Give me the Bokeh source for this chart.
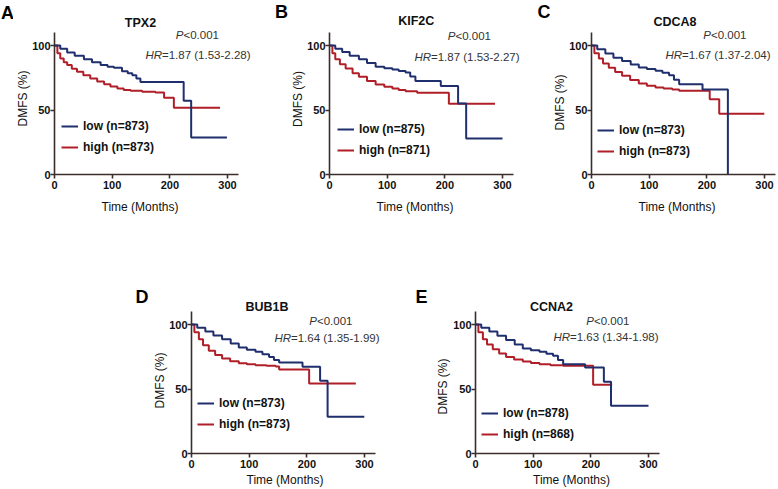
from bokeh.plotting import figure
from bokeh.models import Label, Legend, LegendItem, Spacer, FixedTicker, Range1d, Title
from bokeh.layouts import row, column
from bokeh.core.properties import value
from bokeh.embed import file_html
from bokeh.resources import INLINE

# ---------------- data ----------------
genes = ["TPX2", "KIF2C", "CDCA8", "BUB1B", "CCNA2"]
letters = ["A", "B", "C", "D", "E"]
n_low = [873, 875, 873, 873, 878]
n_high = [873, 871, 873, 873, 868]
hr_values = ["1.87", "1.87", "1.67", "1.64", "1.63"]
hr_ci = ["1.53-2.28", "1.53-2.27", "1.37-2.04", "1.35-1.99", "1.34-1.98"]
p_text = "<0.001"
x_label = "Time (Months)"
y_label = "DMFS (%)"
x_ticks = [0, 100, 200, 300]
y_ticks = [0, 50, 100]

tpx2_low_t = [0, 10, 22, 35, 51, 65, 80, 92, 103, 117, 127, 135, 142, 149, 224, 237, 299]
tpx2_low_s = [100, 97.5, 94.6, 92, 89.4, 87, 84.8, 83.5, 82.7, 80.1, 78.5, 77, 74.5, 71.8, 57.1, 28.7, 28.7]
tpx2_high_t = [0, 5, 10, 16, 22, 30, 39, 50, 62, 74, 86, 97, 109, 120, 132, 152, 175, 190, 207, 287]
tpx2_high_s = [100, 94, 89.9, 87, 84.8, 82, 79.6, 77, 74.4, 72, 70, 68.3, 66.7, 65.6, 64.9, 64.1, 63.5, 59.4, 51.7, 51.7]

kif2c_low_t = [0, 10, 22, 35, 51, 65, 80, 95, 109, 120, 132, 140, 149, 193, 223, 237, 300]
kif2c_low_s = [100, 97.5, 95, 92, 89.4, 86.5, 83.5, 82.3, 81.4, 80.3, 79, 76, 72.4, 68.7, 55, 27.9, 27.9]
kif2c_high_t = [0, 5, 10, 18, 28, 40, 51, 65, 80, 95, 109, 120, 132, 152, 207, 287]
kif2c_high_s = [100, 94, 89.4, 85.5, 82.2, 78.5, 75.7, 72.5, 69.8, 68, 66.7, 65.5, 64.6, 63.3, 54.8, 54.8]

cdca8_low_t = [0, 10, 24, 38, 53, 68, 82, 96, 111, 123, 134.5, 143, 152, 192.5, 236.5]
cdca8_low_s = [100, 97, 93.8, 90.5, 87.9, 85.3, 83, 81.8, 80.4, 78.8, 77, 73.5, 70, 65.9, 0]
cdca8_high_t = [0, 5, 12.8, 20, 30, 41, 53, 67, 82, 96, 111, 125, 140, 152, 205, 221.5, 299.7]
cdca8_high_s = [100, 94, 89.9, 86, 82.7, 79.5, 76.5, 73.3, 70.5, 68.8, 67.4, 66.6, 65.9, 64.9, 58.4, 47, 47]

bub1b_low_t = [0, 10, 24, 38, 53, 68, 82, 96, 111, 123, 134.5, 143, 152, 192.5, 223, 236, 299.7]
bub1b_low_s = [100, 97.5, 94.6, 91.5, 88.6, 85.3, 82.2, 80.5, 78.8, 77, 74.9, 72.5, 70.5, 67.2, 56.3, 28.4, 28.4]
bub1b_high_t = [0, 5, 12.8, 20, 30, 41, 53, 67, 82, 96, 111, 130, 146, 152, 204, 285]
bub1b_high_s = [100, 94, 88.6, 84, 79.6, 76.3, 73.6, 71.5, 70, 69.2, 68.5, 68, 67.4, 65.1, 54.3, 54.3]

ccna2_low_t = [0, 10, 24, 38, 53, 68, 82, 96, 111, 123, 134.5, 143, 152, 190, 222.6, 235, 300]
ccna2_low_s = [100, 97.5, 94.6, 91.3, 87.9, 84.5, 81.4, 80, 78.8, 77.3, 75.7, 72.5, 69.2, 66.7, 55.6, 37, 37]
ccna2_high_t = [0, 5, 12.8, 20, 30, 41, 53, 67, 82, 96, 111, 130, 152, 204, 237]
ccna2_high_s = [100, 94, 88.6, 84.5, 80.9, 77.5, 74.9, 72.9, 71.3, 70.1, 69.2, 68.5, 68, 53.2, 53.2]

curves = [
    (tpx2_low_t, tpx2_low_s, tpx2_high_t, tpx2_high_s),
    (kif2c_low_t, kif2c_low_s, kif2c_high_t, kif2c_high_s),
    (cdca8_low_t, cdca8_low_s, cdca8_high_t, cdca8_high_s),
    (bub1b_low_t, bub1b_low_s, bub1b_high_t, bub1b_high_s),
    (ccna2_low_t, ccna2_low_s, ccna2_high_t, ccna2_high_s),
]

# ---------------- style / layout ----------------
FONT = "Liberation Sans"
AXIS_COLOR = "#3b2d29"
LOW_COLOR = "#1f2e6c"
HIGH_COLOR = "#b01e28"
TEXT_COLOR = "#111111"

X_AXIS_END, Y_AXIS_END = 319, 110
XS = 173 / 300      # px per month
YS = 1.29           # px per percent

TOP_H, BOT_H = 221, 268
# letter figure: (width, letter centre x, letter centre y)
letter_geo = [(13, 7, 12), (16, 9, 11), (16, 9.5, 11), (22, 13.5, 75.5), (25, 16, 75.5)]
# main figure: (width, left border, frame height, bottom border)
main_geo = [
    (259, 41, 174, 47),
    (246, 41, 174, 47),
    (228, 41, 174, 47),
    (255, 41, 232, 36),
    (240, 45, 232, 36),
]
# axis titles: (x offset, x standoff, y offset, y standoff)
axis_title_geo = [(47, 12, 48, 0), (47, 12, 47.5, 0), (47, 12, 44, 0), (55, 1, 45, 0), (57.5, 1, 39, 2)]
# offsets in pixels relative to (y-axis, y=100 line)
title_off = [(86, -23), (86.7, -24.3), (83.5, -24), (75.5, -17.3), (76, -17.3)]
p_off = [(143, -11), (140, -10), (133.5, -10.7), (139.5, -4), (132.5, -4)]
hr_off = [(144.5, 9), (138.5, 11.7), (127.5, 9.3), (136.5, 13.3), (131.5, 12.7)]
# legend: (x offset of line start, centre of "high" row above y=0)
legend_off = [(7, 27), (8, 24), (6, 23), (6, 29), (6, 19)]


def dx(px):
    return px / XS


def dy(px_down_from_100):
    return 100 - px_down_from_100 / YS


def letter_fig(i, h):
    w, cx, cy = letter_geo[i]
    f = figure(frame_width=w, frame_height=h, min_border_left=0, min_border_right=0,
               min_border_top=0, min_border_bottom=0,
               x_range=Range1d(0, w), y_range=Range1d(0, h),
               x_axis_location=None, y_axis_location=None,
               output_backend="svg", toolbar_location=None, tools="")
    f.outline_line_color = None
    f.grid.visible = False
    f.add_layout(Label(x=cx, y=h - cy, text=letters[i], text_align="center",
                       text_baseline="middle", text_font=FONT, text_font_size="18px",
                       text_font_style="bold", text_color="#000000"))
    return f


def make_panel(i):
    width, left, fh, bottom = main_geo[i]
    fw = width - left
    p = figure(frame_width=fw, frame_height=fh,
               min_border_left=left, min_border_right=0,
               min_border_top=0, min_border_bottom=bottom,
               x_range=Range1d(0, fw / XS), y_range=Range1d(0, fh / YS),
               output_backend="svg", toolbar_location=None, tools="")
    p.outline_line_color = None
    p.grid.visible = False
    p.background_fill_color = "white"
    p.border_fill_color = "white"

    p.xaxis.ticker = FixedTicker(ticks=x_ticks)
    p.yaxis.ticker = FixedTicker(ticks=y_ticks)
    p.xaxis.bounds = (0, X_AXIS_END)
    p.yaxis.bounds = (0, Y_AXIS_END)
    for ax in (p.xaxis[0], p.yaxis[0]):
        ax.axis_line_color = AXIS_COLOR
        ax.axis_line_width = 1.6
        ax.major_tick_line_color = AXIS_COLOR
        ax.major_tick_line_width = 1.6
        ax.major_tick_out = 4
        ax.major_tick_in = 0
        ax.minor_tick_line_color = None
        ax.major_label_text_font = FONT
        ax.major_label_text_font_size = "11px"
        ax.major_label_text_font_style = "bold"
        ax.major_label_text_color = TEXT_COLOR
    p.xaxis.major_label_standoff = 2
    p.yaxis.major_label_standoff = 0

    xo, xs_, yo, ys_ = axis_title_geo[i]
    p.add_layout(Title(text=x_label, align="left", offset=xo, vertical_align="bottom",
                       standoff=xs_, text_font=FONT, text_font_size="12px",
                       text_font_style="normal", text_color=TEXT_COLOR), "below")
    p.add_layout(Title(text=y_label, align="left", offset=yo, vertical_align="bottom",
                       standoff=ys_, text_font=FONT, text_font_size="12px",
                       text_font_style="normal", text_color=TEXT_COLOR), "left")

    lt, ls, ht, hs = curves[i]
    r_high = p.step(ht, hs, mode="after", line_color=HIGH_COLOR, line_width=2)
    r_low = p.step(lt, ls, mode="after", line_color=LOW_COLOR, line_width=2)

    lx, lh = legend_off[i]
    legend = Legend(items=[
        LegendItem(label=value(f"low (n={n_low[i]})"), renderers=[r_low]),
        LegendItem(label=value(f"high (n={n_high[i]})"), renderers=[r_high]),
    ], location=(lx, lh - 10), padding=0, margin=0, spacing=1,
        glyph_width=17, glyph_height=20, label_height=20, label_standoff=5,
        label_text_font=FONT, label_text_font_size="12px",
        label_text_font_style="bold", label_text_color=TEXT_COLOR,
        background_fill_alpha=0, border_line_alpha=0)
    p.add_layout(legend)

    ox, oy = title_off[i]
    p.add_layout(Label(x=dx(ox), y=dy(oy), text=genes[i], text_align="center",
                       text_baseline="middle", text_font=FONT, text_font_size="12.5px",
                       text_font_style="bold", text_color=TEXT_COLOR))
    ox, oy = p_off[i]
    jx = ox - 14
    p.add_layout(Label(x=dx(jx), y=dy(oy), text="P", text_align="right",
                       text_baseline="middle", text_font=FONT, text_font_size="11.5px",
                       text_font_style="italic", text_color="#333333"))
    p.add_layout(Label(x=dx(jx), y=dy(oy), text=p_text, text_align="left",
                       text_baseline="middle", text_font=FONT, text_font_size="11.5px",
                       text_font_style="normal", text_color="#333333"))
    ox, oy = hr_off[i]
    jx = ox - 37
    p.add_layout(Label(x=dx(jx), y=dy(oy), text="HR", text_align="right",
                       text_baseline="middle", text_font=FONT, text_font_size="11.5px",
                       text_font_style="italic", text_color="#333333"))
    p.add_layout(Label(x=dx(jx), y=dy(oy), text=f"={hr_values[i]} ({hr_ci[i]})",
                       text_align="left", text_baseline="middle", text_font=FONT,
                       text_font_size="11.5px", text_font_style="normal",
                       text_color="#333333"))
    return p


top_row = row(letter_fig(0, TOP_H), make_panel(0),
              letter_fig(1, TOP_H), make_panel(1),
              letter_fig(2, TOP_H), make_panel(2))
bottom_row = row(Spacer(width=128, height=BOT_H),
                 letter_fig(3, BOT_H), make_panel(3),
                 letter_fig(4, BOT_H), make_panel(4))
layout = column(top_row, bottom_row)

open("out.html", "w").write(file_html(layout, INLINE))
